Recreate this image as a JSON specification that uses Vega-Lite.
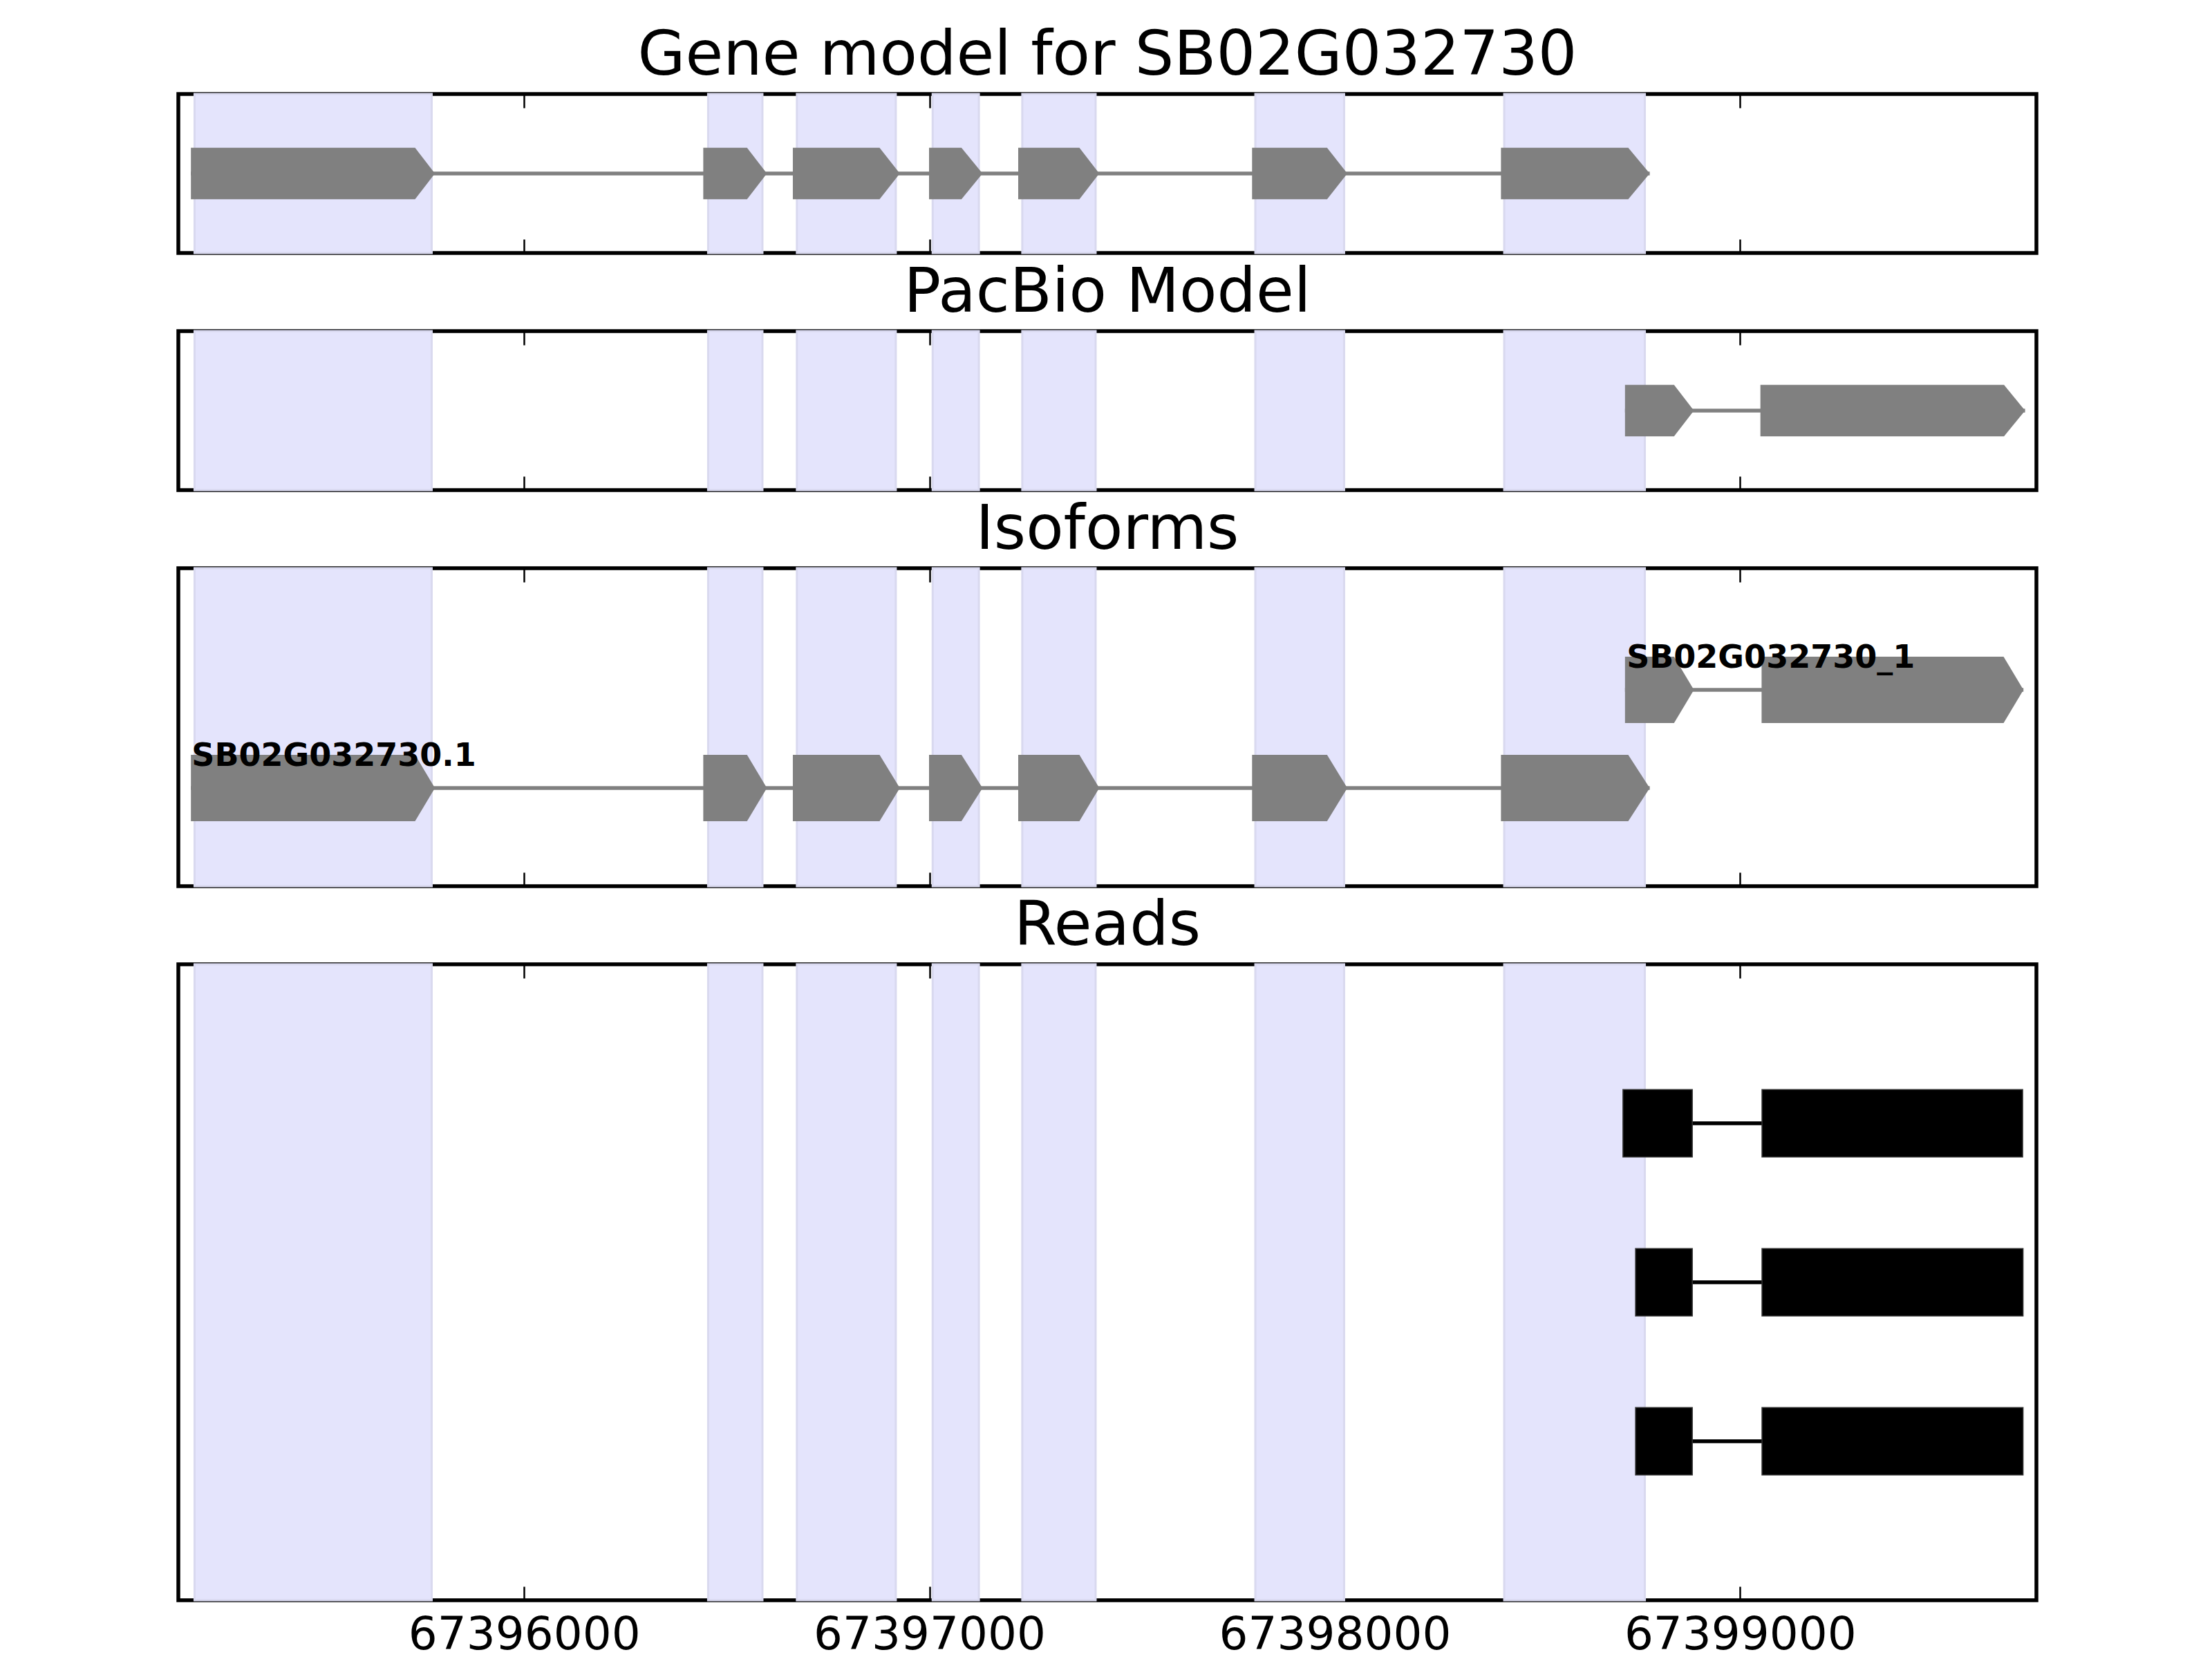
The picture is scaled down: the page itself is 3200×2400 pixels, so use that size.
{
  "$schema": "https://vega.github.io/schema/vega-lite/v6.json",
  "background": "white",
  "padding": {"left": 255, "top": 33, "right": 257, "bottom": 0},
  "spacing": 5,
  "config": {
    "font": "DejaVu Sans",
    "view": {"stroke": "black", "strokeWidth": 5.5},
    "title": {"fontSize": 89, "font": "DejaVu Sans", "fontWeight": "normal", "color": "black", "offset": 8, "baseline": "alphabetic"}
  },
  "datasets": {
    "shades": [
      {"s": 67395187, "e": 67395772},
      {"s": 67396454, "e": 67396588},
      {"s": 67396673, "e": 67396917},
      {"s": 67397008, "e": 67397122},
      {"s": 67397229, "e": 67397410},
      {"s": 67397804, "e": 67398023},
      {"s": 67398418, "e": 67398765}
    ],
    "gene_exons": [
      {"exon": "e1", "x": 67395178, "lo": 0.677, "hi": 1.323},
      {"exon": "e1", "x": 67395731, "lo": 0.677, "hi": 1.323},
      {"exon": "e1", "x": 67395780, "lo": 1, "hi": 1},
      {"exon": "e2", "x": 67396442, "lo": 0.677, "hi": 1.323},
      {"exon": "e2", "x": 67396550, "lo": 0.677, "hi": 1.323},
      {"exon": "e2", "x": 67396599, "lo": 1, "hi": 1},
      {"exon": "e3", "x": 67396663, "lo": 0.677, "hi": 1.323},
      {"exon": "e3", "x": 67396877, "lo": 0.677, "hi": 1.323},
      {"exon": "e3", "x": 67396927, "lo": 1, "hi": 1},
      {"exon": "e4", "x": 67396999, "lo": 0.677, "hi": 1.323},
      {"exon": "e4", "x": 67397079, "lo": 0.677, "hi": 1.323},
      {"exon": "e4", "x": 67397131, "lo": 1, "hi": 1},
      {"exon": "e5", "x": 67397219, "lo": 0.677, "hi": 1.323},
      {"exon": "e5", "x": 67397370, "lo": 0.677, "hi": 1.323},
      {"exon": "e5", "x": 67397419, "lo": 1, "hi": 1},
      {"exon": "e6", "x": 67397796, "lo": 0.677, "hi": 1.323},
      {"exon": "e6", "x": 67397981, "lo": 0.677, "hi": 1.323},
      {"exon": "e6", "x": 67398031, "lo": 1, "hi": 1},
      {"exon": "e7", "x": 67398410, "lo": 0.677, "hi": 1.323},
      {"exon": "e7", "x": 67398724, "lo": 0.677, "hi": 1.323},
      {"exon": "e7", "x": 67398777, "lo": 1, "hi": 1}
    ],
    "gene_line": [{"s": 67395178, "e": 67398777, "y": 1}],
    "pacbio_exons": [
      {"exon": "a", "x": 67398716, "lo": 0.677, "hi": 1.323},
      {"exon": "a", "x": 67398837, "lo": 0.677, "hi": 1.323},
      {"exon": "a", "x": 67398886, "lo": 1, "hi": 1},
      {"exon": "b", "x": 67399050, "lo": 0.677, "hi": 1.323},
      {"exon": "b", "x": 67399651, "lo": 0.677, "hi": 1.323},
      {"exon": "b", "x": 67399703, "lo": 1, "hi": 1}
    ],
    "pacbio_line": [{"s": 67398716, "e": 67399703, "y": 1}],
    "iso_exons": [
      {"exon": "t1e1", "x": 67395178, "lo": 0.662, "hi": 1.338},
      {"exon": "t1e1", "x": 67395731, "lo": 0.662, "hi": 1.338},
      {"exon": "t1e1", "x": 67395780, "lo": 1, "hi": 1},
      {"exon": "t1e2", "x": 67396442, "lo": 0.662, "hi": 1.338},
      {"exon": "t1e2", "x": 67396550, "lo": 0.662, "hi": 1.338},
      {"exon": "t1e2", "x": 67396599, "lo": 1, "hi": 1},
      {"exon": "t1e3", "x": 67396663, "lo": 0.662, "hi": 1.338},
      {"exon": "t1e3", "x": 67396877, "lo": 0.662, "hi": 1.338},
      {"exon": "t1e3", "x": 67396927, "lo": 1, "hi": 1},
      {"exon": "t1e4", "x": 67396999, "lo": 0.662, "hi": 1.338},
      {"exon": "t1e4", "x": 67397079, "lo": 0.662, "hi": 1.338},
      {"exon": "t1e4", "x": 67397131, "lo": 1, "hi": 1},
      {"exon": "t1e5", "x": 67397219, "lo": 0.662, "hi": 1.338},
      {"exon": "t1e5", "x": 67397370, "lo": 0.662, "hi": 1.338},
      {"exon": "t1e5", "x": 67397419, "lo": 1, "hi": 1},
      {"exon": "t1e6", "x": 67397796, "lo": 0.662, "hi": 1.338},
      {"exon": "t1e6", "x": 67397981, "lo": 0.662, "hi": 1.338},
      {"exon": "t1e6", "x": 67398031, "lo": 1, "hi": 1},
      {"exon": "t1e7", "x": 67398410, "lo": 0.662, "hi": 1.338},
      {"exon": "t1e7", "x": 67398724, "lo": 0.662, "hi": 1.338},
      {"exon": "t1e7", "x": 67398777, "lo": 1, "hi": 1},
      {"exon": "t2e1", "x": 67398716, "lo": 1.662, "hi": 2.338},
      {"exon": "t2e1", "x": 67398837, "lo": 1.662, "hi": 2.338},
      {"exon": "t2e1", "x": 67398886, "lo": 2, "hi": 2},
      {"exon": "t2e2", "x": 67399053, "lo": 1.662, "hi": 2.338},
      {"exon": "t2e2", "x": 67399650, "lo": 1.662, "hi": 2.338},
      {"exon": "t2e2", "x": 67399699, "lo": 2, "hi": 2}
    ],
    "iso_lines": [
      {"s": 67395178, "e": 67398777, "y": 1},
      {"s": 67398716, "e": 67399699, "y": 2}
    ],
    "iso_labels": [
      {"x": 67395180, "y": 1.225, "label": "SB02G032730.1"},
      {"x": 67398720, "y": 2.225, "label": "SB02G032730_1"}
    ],
    "read_blocks": [
      {"read": 1, "s": 67398711, "e": 67398882, "lo": 2.788, "hi": 3.212},
      {"read": 1, "s": 67399054, "e": 67399697, "lo": 2.788, "hi": 3.212},
      {"read": 2, "s": 67398742, "e": 67398882, "lo": 1.788, "hi": 2.212},
      {"read": 2, "s": 67399054, "e": 67399698, "lo": 1.788, "hi": 2.212},
      {"read": 3, "s": 67398742, "e": 67398882, "lo": 0.788, "hi": 1.212},
      {"read": 3, "s": 67399054, "e": 67399698, "lo": 0.788, "hi": 1.212}
    ],
    "read_lines": [
      {"read": 1, "s": 67398711, "e": 67399697, "y": 3},
      {"read": 2, "s": 67398742, "e": 67399698, "y": 2},
      {"read": 3, "s": 67398742, "e": 67399698, "y": 1}
    ]
  },
  "vconcat": [
    {
      "title": "Gene model for SB02G032730",
      "width": 2688,
      "height": 230,
      "layer": [
        {
          "data": {"name": "shades"},
          "mark": {"type": "rect", "fill": "#e4e4fc", "stroke": "#d9d9ef", "strokeWidth": 3},
          "encoding": {
            "x": {"field": "s", "type": "quantitative", "scale": {"domain": [67395147, 67399731], "nice": false, "zero": false},
                  "axis": {"orient": "bottom", "title": null, "values": [67396000, 67397000, 67398000, 67399000], "labels": false, "domain": false, "grid": false, "tickSize": -20, "tickWidth": 2.5, "tickColor": "black"}},
            "x2": {"field": "e"}
          }
        },
        {
          "data": {"name": "gene_line"},
          "mark": {"type": "rule", "color": "#808080", "strokeWidth": 5.5},
          "encoding": {
            "x": {"field": "s", "type": "quantitative",
                  "axis": {"orient": "top", "title": null, "values": [67396000, 67397000, 67398000, 67399000], "labels": false, "domain": false, "grid": false, "tickSize": -20, "tickWidth": 2.5, "tickColor": "black"}},
            "x2": {"field": "e"},
            "y": {"field": "y", "type": "quantitative", "scale": {"domain": [0, 2], "nice": false, "zero": false}, "axis": null}
          }
        },
        {
          "data": {"name": "gene_exons"},
          "mark": {"type": "area", "color": "#808080", "interpolate": "linear"},
          "encoding": {
            "x": {"field": "x", "type": "quantitative", "axis": null},
            "y": {"field": "lo", "type": "quantitative", "axis": null},
            "y2": {"field": "hi"},
            "detail": {"field": "exon", "type": "nominal"}
          }
        }
      ],
      "resolve": {"axis": {"x": "independent"}}
    },
    {
      "title": "PacBio Model",
      "width": 2688,
      "height": 230,
      "layer": [
        {
          "data": {"name": "shades"},
          "mark": {"type": "rect", "fill": "#e4e4fc", "stroke": "#d9d9ef", "strokeWidth": 3},
          "encoding": {
            "x": {"field": "s", "type": "quantitative", "scale": {"domain": [67395147, 67399731], "nice": false, "zero": false},
                  "axis": {"orient": "bottom", "title": null, "values": [67396000, 67397000, 67398000, 67399000], "labels": false, "domain": false, "grid": false, "tickSize": -20, "tickWidth": 2.5, "tickColor": "black"}},
            "x2": {"field": "e"}
          }
        },
        {
          "data": {"name": "pacbio_line"},
          "mark": {"type": "rule", "color": "#808080", "strokeWidth": 5.5},
          "encoding": {
            "x": {"field": "s", "type": "quantitative",
                  "axis": {"orient": "top", "title": null, "values": [67396000, 67397000, 67398000, 67399000], "labels": false, "domain": false, "grid": false, "tickSize": -20, "tickWidth": 2.5, "tickColor": "black"}},
            "x2": {"field": "e"},
            "y": {"field": "y", "type": "quantitative", "scale": {"domain": [0, 2], "nice": false, "zero": false}, "axis": null}
          }
        },
        {
          "data": {"name": "pacbio_exons"},
          "mark": {"type": "area", "color": "#808080", "interpolate": "linear"},
          "encoding": {
            "x": {"field": "x", "type": "quantitative", "axis": null},
            "y": {"field": "lo", "type": "quantitative", "axis": null},
            "y2": {"field": "hi"},
            "detail": {"field": "exon", "type": "nominal"}
          }
        }
      ],
      "resolve": {"axis": {"x": "independent"}}
    },
    {
      "title": "Isoforms",
      "width": 2688,
      "height": 460,
      "layer": [
        {
          "data": {"name": "shades"},
          "mark": {"type": "rect", "fill": "#e4e4fc", "stroke": "#d9d9ef", "strokeWidth": 3},
          "encoding": {
            "x": {"field": "s", "type": "quantitative", "scale": {"domain": [67395147, 67399731], "nice": false, "zero": false},
                  "axis": {"orient": "bottom", "title": null, "values": [67396000, 67397000, 67398000, 67399000], "labels": false, "domain": false, "grid": false, "tickSize": -20, "tickWidth": 2.5, "tickColor": "black"}},
            "x2": {"field": "e"}
          }
        },
        {
          "data": {"name": "iso_lines"},
          "mark": {"type": "rule", "color": "#808080", "strokeWidth": 5.5},
          "encoding": {
            "x": {"field": "s", "type": "quantitative",
                  "axis": {"orient": "top", "title": null, "values": [67396000, 67397000, 67398000, 67399000], "labels": false, "domain": false, "grid": false, "tickSize": -20, "tickWidth": 2.5, "tickColor": "black"}},
            "x2": {"field": "e"},
            "y": {"field": "y", "type": "quantitative", "scale": {"domain": [0, 3.24], "nice": false, "zero": false}, "axis": null}
          }
        },
        {
          "data": {"name": "iso_exons"},
          "mark": {"type": "area", "color": "#808080", "interpolate": "linear"},
          "encoding": {
            "x": {"field": "x", "type": "quantitative", "axis": null},
            "y": {"field": "lo", "type": "quantitative", "axis": null},
            "y2": {"field": "hi"},
            "detail": {"field": "exon", "type": "nominal"}
          }
        },
        {
          "data": {"name": "iso_labels"},
          "mark": {"type": "text", "font": "DejaVu Sans", "fontWeight": "bold", "fontSize": 46, "align": "left", "baseline": "alphabetic", "color": "black"},
          "encoding": {
            "x": {"field": "x", "type": "quantitative", "axis": null},
            "y": {"field": "y", "type": "quantitative", "axis": null},
            "text": {"field": "label", "type": "nominal"}
          }
        }
      ],
      "resolve": {"axis": {"x": "independent"}}
    },
    {
      "title": "Reads",
      "width": 2688,
      "height": 920,
      "layer": [
        {
          "data": {"name": "shades"},
          "mark": {"type": "rect", "fill": "#e4e4fc", "stroke": "#d9d9ef", "strokeWidth": 3},
          "encoding": {
            "x": {"field": "s", "type": "quantitative", "scale": {"domain": [67395147, 67399731], "nice": false, "zero": false},
                  "axis": {"orient": "bottom", "title": null, "values": [67396000, 67397000, 67398000, 67399000], "format": "d", "labels": true, "labelFont": "DejaVu Sans", "labelFontSize": 66, "labelColor": "black", "labelLimit": 1000, "labelPadding": 38, "domain": false, "grid": false, "tickSize": -20, "tickWidth": 2.5, "tickColor": "black"}},
            "x2": {"field": "e"}
          }
        },
        {
          "data": {"name": "read_lines"},
          "mark": {"type": "rule", "color": "black", "strokeWidth": 5.5},
          "encoding": {
            "x": {"field": "s", "type": "quantitative",
                  "axis": {"orient": "top", "title": null, "values": [67396000, 67397000, 67398000, 67399000], "labels": false, "domain": false, "grid": false, "tickSize": -20, "tickWidth": 2.5, "tickColor": "black"}},
            "x2": {"field": "e"},
            "y": {"field": "y", "type": "quantitative", "scale": {"domain": [0, 4], "nice": false, "zero": false}, "axis": null}
          }
        },
        {
          "data": {"name": "read_blocks"},
          "mark": {"type": "rect", "fill": "black", "stroke": "#333333", "strokeWidth": 1.5},
          "encoding": {
            "x": {"field": "s", "type": "quantitative", "axis": null},
            "x2": {"field": "e"},
            "y": {"field": "lo", "type": "quantitative", "axis": null},
            "y2": {"field": "hi"}
          }
        }
      ],
      "resolve": {"axis": {"x": "independent"}}
    }
  ]
}
